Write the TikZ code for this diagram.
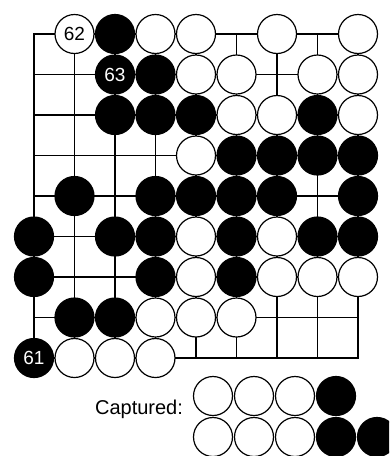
\documentclass[tikz,border=0pt]{standalone}
\usepackage{fontspec}
\setmainfont{Liberation Sans}
\begin{document}
\begin{tikzpicture}[x=1pt,y=-1pt,
  gridline/.style={line width=1.9pt,line cap=rect},
  wstone/.style={circle,draw=black,fill=white,line width=1.2pt,minimum size=39pt,inner sep=0pt,font=\fontsize{19}{19}\selectfont,text=black},
  bstone/.style={circle,draw=black,fill=black,line width=1.2pt,minimum size=39pt,inner sep=0pt,font=\fontsize{19}{19}\selectfont,text=white},
  lbl/.style={font=\fontsize{20}{20}\selectfont,inner sep=0pt,anchor=base}]
\useasboundingbox (0,0) rectangle (389,456);
\clip (0,0) rectangle (389,456);
\begin{scope}[shift={(34,34)},x=40.5pt,y=-40.5pt]
  \foreach \i in {0,...,8} {
    \draw[gridline] (\i,0) -- (\i,8);
    \draw[gridline] (0,\i) -- (8,\i);
  }
  % row 0
  \node[wstone] (s10) at (1,0) {62};
  \node[bstone] (s20) at (2,0) {};
  \node[wstone] (s30) at (3,0) {};
  \node[wstone] (s40) at (4,0) {};
  \node[wstone] (s60) at (6,0) {};
  \node[wstone] (s80) at (8,0) {};
  % row 1
  \node[bstone] (s21) at (2,1) {63};
  \node[bstone] (s31) at (3,1) {};
  \node[wstone] (s41) at (4,1) {};
  \node[wstone] (s51) at (5,1) {};
  \node[wstone] (s71) at (7,1) {};
  \node[wstone] (s81) at (8,1) {};
  % row 2
  \node[bstone] (s22) at (2,2) {};
  \node[bstone] (s32) at (3,2) {};
  \node[bstone] (s42) at (4,2) {};
  \node[wstone] (s52) at (5,2) {};
  \node[wstone] (s62) at (6,2) {};
  \node[bstone] (s72) at (7,2) {};
  \node[wstone] (s82) at (8,2) {};
  % row 3
  \node[wstone] (s43) at (4,3) {};
  \node[bstone] (s53) at (5,3) {};
  \node[bstone] (s63) at (6,3) {};
  \node[bstone] (s73) at (7,3) {};
  \node[bstone] (s83) at (8,3) {};
  % row 4
  \node[bstone] (s14) at (1,4) {};
  \node[bstone] (s34) at (3,4) {};
  \node[bstone] (s44) at (4,4) {};
  \node[bstone] (s54) at (5,4) {};
  \node[bstone] (s64) at (6,4) {};
  \node[bstone] (s84) at (8,4) {};
  % row 5
  \node[bstone] (s05) at (0,5) {};
  \node[bstone] (s25) at (2,5) {};
  \node[bstone] (s35) at (3,5) {};
  \node[wstone] (s45) at (4,5) {};
  \node[bstone] (s55) at (5,5) {};
  \node[wstone] (s65) at (6,5) {};
  \node[bstone] (s75) at (7,5) {};
  \node[bstone] (s85) at (8,5) {};
  % row 6
  \node[bstone] (s06) at (0,6) {};
  \node[bstone] (s36) at (3,6) {};
  \node[wstone] (s46) at (4,6) {};
  \node[bstone] (s56) at (5,6) {};
  \node[wstone] (s66) at (6,6) {};
  \node[wstone] (s76) at (7,6) {};
  \node[wstone] (s86) at (8,6) {};
  % row 7
  \node[bstone] (s17) at (1,7) {};
  \node[bstone] (s27) at (2,7) {};
  \node[wstone] (s37) at (3,7) {};
  \node[wstone] (s47) at (4,7) {};
  \node[wstone] (s57) at (5,7) {};
  % row 8
  \node[bstone] (s08) at (0,8) {61};
  \node[wstone] (s18) at (1,8) {};
  \node[wstone] (s28) at (2,8) {};
  \node[wstone] (s38) at (3,8) {};
\end{scope}
\node[lbl] (cap) at (139,414) {Captured:};
\node[wstone] (c1) at (213,396) {};
\node[wstone] (c2) at (254,396) {};
\node[wstone] (c3) at (295,396) {};
\node[bstone] (c4) at (336,396) {};
\node[wstone] (c5) at (213,437) {};
\node[wstone] (c6) at (254,437) {};
\node[wstone] (c7) at (295,437) {};
\node[bstone] (c8) at (336,437) {};
\node[bstone] (c9) at (377,437) {};
\end{tikzpicture}
\end{document}
